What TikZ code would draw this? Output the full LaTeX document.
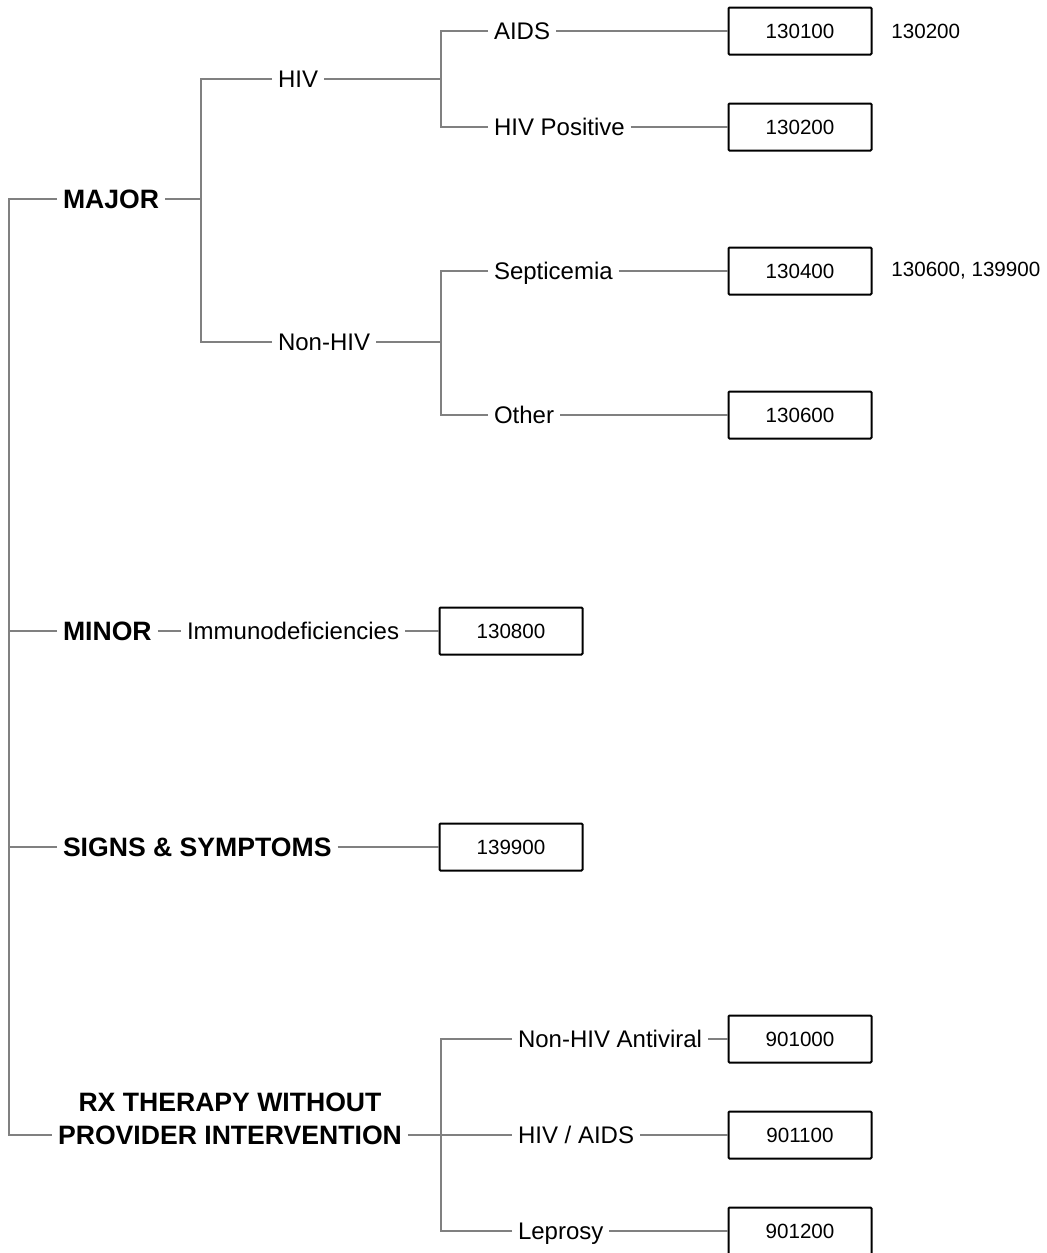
\documentclass[tikz,border=0pt]{standalone}
\usepackage{fontspec}
\setmainfont{Liberation Sans}
\definecolor{linegray}{RGB}{128,128,128}

\begin{document}
\begin{tikzpicture}[x=0.5pt,y=-0.5pt,
        link/.style={draw=linegray,line width=0.65pt},
        lab/.style={font=\fontsize{12}{14}\selectfont,inner sep=0pt,outer xsep=3pt,
            text height=8.6pt,text depth=0pt},
        grp/.style={lab,font=\fontsize{13.3}{16}\selectfont\bfseries,text height=9.5pt},
        code/.style={draw,line width=1pt,rounded corners=0.5pt,minimum width=71.5pt,
            minimum height=23.5pt,inner sep=0pt,text height=7.4pt,text depth=0pt,
            font=\fontsize{10.3}{12}\selectfont},
        note/.style={anchor=west,inner sep=0pt,font=\fontsize{10.3}{12}\selectfont}]
        \useasboundingbox (0,0) rectangle (1046,1253);

        \node[grp,anchor=west] (major)   at (57,199)  {MAJOR};
        \node[lab,anchor=west] (hiv)     at (272,79)  {HIV};
        \node[lab,anchor=west] (nonhiv)  at (272,342) {Non-HIV};
        \node[lab,anchor=west] (aids)    at (488,31)  {AIDS};
        \node[lab,anchor=west] (hivpos)  at (488,127) {HIV Positive};
        \node[lab,anchor=west] (sept)    at (488,271) {Septicemia};
        \node[lab,anchor=west] (other)   at (488,415) {Other};

        \node[code] (c130100) at (800,31)  {130100};
        \node[code] (c130200) at (800,127) {130200};
        \node[code] (c130400) at (800,271) {130400};
        \node[code] (c130600) at (800,415) {130600};
        \node[note] (n130100) at (891,31)  {130200};
        \node[note] (n130400) at (891,271) {130600, 139900};

        \node[grp,anchor=west] (minor)  at (57,631)  {MINOR};
        \node[lab,anchor=west] (immuno) at (181,631) {Immunodeficiencies};
        \node[code] (c130800) at (511,631) {130800};

        \node[grp,anchor=west] (signs) at (57,847) {SIGNS \& SYMPTOMS};
        \node[code] (c139900) at (511,847) {139900};

        \node[grp] (rx) at (230,1135) {PROVIDER INTERVENTION};
        \node[grp] (rxtop) [above of=rx,node distance=16.5pt] {RX THERAPY WITHOUT};
        \node[lab,anchor=west] (antiv)   at (512,1039) {Non-HIV Antiviral};
        \node[lab,anchor=west] (hivaids) at (512,1135) {HIV / AIDS};
        \node[lab,anchor=west] (lepr)    at (512,1231) {Leprosy};
        \node[code] (c901000) at (800,1039) {901000};
        \node[code] (c901100) at (800,1135) {901100};
        \node[code] (c901200) at (800,1231) {901200};

        \coordinate (trunk) at (9,199);
        \coordinate (trunkend) at (9,1135);
        \coordinate (jmajor) at (201,199);
        \coordinate (jhiv) at (441,79);
        \coordinate (jnonhiv) at (441,342);
        \coordinate (jrx) at (441,1135);

        \path[link] (major.west) -- (trunk) -- (trunkend) -- (rx.west)
        (minor.west) -- (minor.west -| trunk)
        (signs.west) -- (signs.west -| trunk);

        \path[link] (major.east) -- (jmajor)
        (hiv.west) -| (jmajor)
        (nonhiv.west) -| (jmajor)
        (hiv.east) -- (jhiv)
        (aids.west) -| (jhiv)
        (hivpos.west) -| (jhiv)
        (nonhiv.east) -- (jnonhiv)
        (sept.west) -| (jnonhiv)
        (other.west) -| (jnonhiv);

        \path[link] (aids.east) -- (c130100.west)
        (hivpos.east) -- (c130200.west)
        (sept.east) -- (c130400.west)
        (other.east) -- (c130600.west)
        (minor.east) -- (immuno.west)
        (immuno.east) -- (c130800.west)
        (signs.east) -- (c139900.west);

        \path[link] (rx.east) -- (jrx) -- (hivaids.west)
        (antiv.west) -| (jrx)
        (lepr.west) -| (jrx)
        (antiv.east) -- (c901000.west)
        (hivaids.east) -- (c901100.west)
        (lepr.east) -- (c901200.west);
    \end{tikzpicture}
\end{document}
